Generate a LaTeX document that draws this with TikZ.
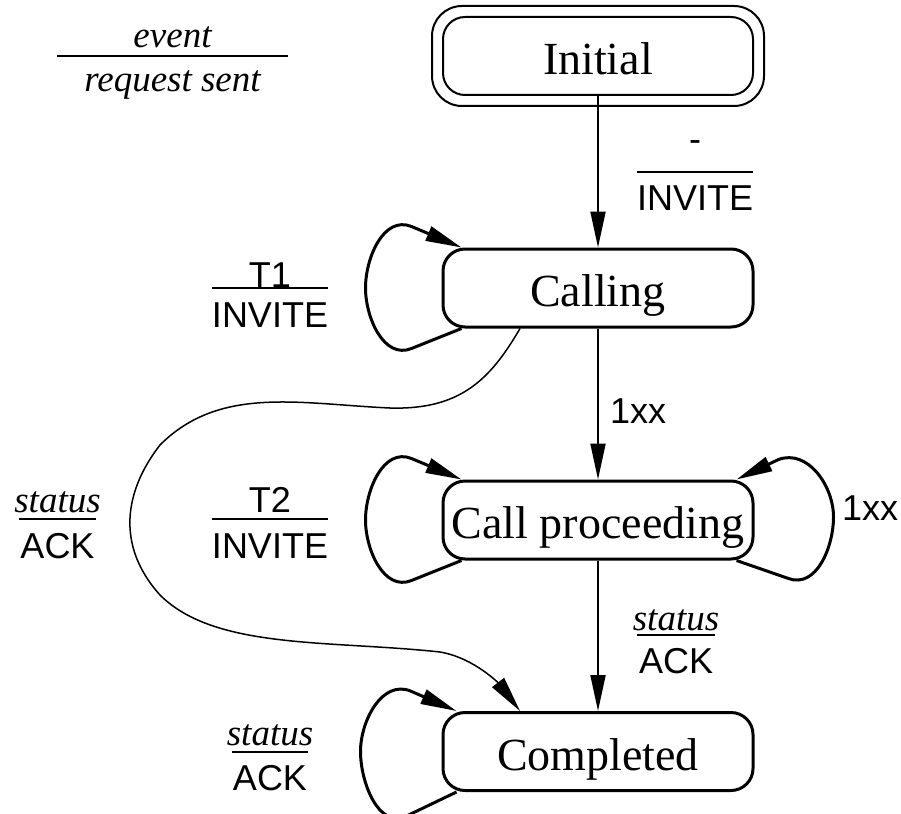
\documentclass[tikz,border=0pt]{standalone}
\usepackage{fontspec}
\setmainfont{Liberation Serif}
\newfontfamily\labelsans{Liberation Sans}
\usetikzlibrary{arrows.meta}

% sans and italic label text
\newcommand\sanstext[1]{{\labelsans\fontsize{36}{40}\selectfont #1}}
\newcommand\ittext[1]{{\fontsize{37}{40}\selectfont\itshape #1}}

% event/action label: name, rule centre, rule half-length,
% top baseline above rule, bottom baseline below rule, top text, bottom text
\newcommand\evtfrac[7]{%
  \coordinate (#1) at #2;
  \draw[fracrule] ([xshift=-#3]#1) -- ([xshift=#3]#1);
  \node[anchor=base, inner sep=0pt] (#1-top) at ([yshift=#4]#1) {#6};
  \node[anchor=base, inner sep=0pt] (#1-bot) at ([yshift=-#5]#1) {#7};
}

% self loop on the left side of a state
\newcommand\westloop[1]{%
  \draw[selfloop] ([xshift=20pt]#1.south west)
    -- ([xshift=-30pt,yshift=-20pt]#1.south west)
    to[out=202,in=-90] ([xshift=-76pt]#1.west)
    to[out=90,in=158] ([xshift=-30pt,yshift=21pt]#1.north west)
    -- ([xshift=20pt]#1.north west);
}

\begin{document}
\begin{tikzpicture}[x=1pt, y=1pt,
  state/.style={draw, line width=3pt, rounded corners=22pt,
    minimum width=310pt, minimum height=78pt, inner sep=0pt,
    text height=37pt, text depth=0pt, font=\fontsize{46}{50}\selectfont},
  tip/.style={-{Triangle[length=36pt,width=15pt]}},
  edge/.style={tip, line width=2pt},
  selfloop/.style={tip, line width=3pt, line join=round},
  longedge/.style={tip, line width=1.5pt},
  fracrule/.style={line width=2pt}
]
\useasboundingbox (0,0) rectangle (901,-813);

% states
\node[state, line width=2pt] (initial) at (598,-56) {Initial};
\draw[line width=2pt, rounded corners=30pt]
  ([shift={(-10pt,10pt)}]initial.north west) rectangle
  ([shift={(10pt,-10pt)}]initial.south east);
\node[state] (calling) at (598,-288) {Calling};
\node[state] (proc) at (598,-520) {Call proceeding};
\node[state] (done) at (598,-751.5) {Completed};

% main transitions
\draw[edge] (initial.south) -- (calling.north);
\draw[edge] (calling.south) -- (proc.north);
\draw[edge] (proc.south) -- (done.north);

% self loops
\westloop{calling}
\westloop{proc}
\draw[selfloop] ([xshift=-18pt]proc.south east)
  -- ([xshift=34pt,yshift=-18pt]proc.south east)
  to[out=-20,in=-90] ([xshift=79pt,yshift=3pt]proc.east)
  to[out=90,in=20] ([xshift=24pt,yshift=20pt]proc.north east)
  -- ([xshift=-18pt]proc.north east);
\draw[selfloop] ([xshift=15pt]done.south west)
  -- ([xshift=-35pt,yshift=-24pt]done.south west)
  to[out=206,in=-90] ([xshift=-81pt]done.west)
  to[out=90,in=158] ([xshift=-31pt,yshift=20pt]done.north west)
  -- ([xshift=15pt]done.north west);

% status received while calling
\draw[longedge] ([xshift=-78pt]calling.south)
  .. controls (490,-380) and (460,-410) .. (390,-408)
  .. controls (300,-404) and (220,-385) .. (160,-445)
  .. controls (125,-490) and (115,-545) .. (160,-595)
  .. controls (215,-650) and (330,-640) .. (440,-652)
  .. controls (475,-658) and (500,-685) .. ([xshift=-78pt]done.north);

% labels
\evtfrac{legend}{(172.5,-56)}{115.5pt}{8pt}{36pt}{\ittext{event}}{\ittext{request sent}}
\evtfrac{invite}{(695,-172)}{58pt}{20pt}{38pt}{\sanstext{-}}{\sanstext{INVITE}}
\evtfrac{tone}{(270,-288)}{58pt}{1pt}{39pt}{\sanstext{T1}}{\sanstext{INVITE}}
\evtfrac{ttwo}{(270,-519)}{58pt}{7pt}{39pt}{\sanstext{T2}}{\sanstext{INVITE}}
\evtfrac{stleft}{(57.5,-519)}{38.5pt}{7pt}{39pt}{\ittext{status}}{\sanstext{ACK}}
\evtfrac{stmid}{(676,-635)}{39pt}{5pt}{38pt}{\ittext{status}}{\sanstext{ACK}}
\evtfrac{stdone}{(270,-752)}{38pt}{7pt}{38pt}{\ittext{status}}{\sanstext{ACK}}
\node[anchor=base west, inner sep=0pt] (xxa) at (610,-423) {\sanstext{1xx}};
\node[anchor=base west, inner sep=0pt] (xxb) at (842,-520) {\sanstext{1xx}};
\end{tikzpicture}
\end{document}
